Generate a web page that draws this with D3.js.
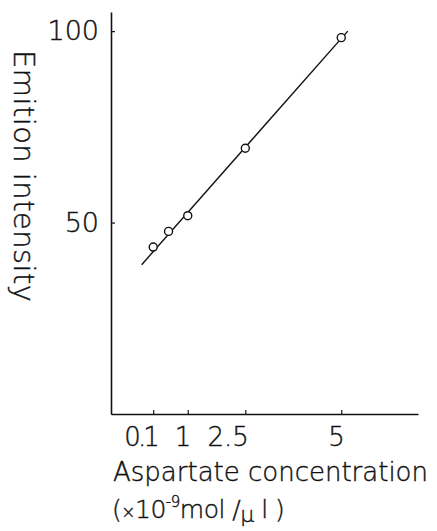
<!DOCTYPE html>
<html>
<head>
<meta charset="utf-8">
<script src="https://cdn.jsdelivr.net/npm/d3@7"></script>
<style>
  body { margin: 0; background: #fff; }
  svg { display: block; font-family: "DejaVu Sans", sans-serif; font-weight: 200; }
  svg text { stroke: #111; stroke-width: 0.4; }
</style>
</head>
<body>
<svg width="437" height="531"></svg>
<script>
// concentration (x10^-9 mol/ul) and emission intensity
const conc = [0.1, 0.5, 1, 2.5, 5];
const intensity = [43.6, 47.7, 51.8, 69.4, 98.3];
// fitted straight line, its two ends
const fitX = [-0.2, 5.17];
const fitY = [39, 100];
const xTicks = [0.1, 1, 2.5, 5];
const yTicks = [50, 100];

const svg = d3.select("svg");
const ink = "#111";

const x = d3.scaleLinear().domain([-1, 7]).range([111, 418]);
const y = d3.scaleLinear().domain([0, 105]).range([414, 12]);

const yAxis = svg
  .append("g")
  .attr("transform", `translate(${x(-1)},0)`)
  .call(
    d3.axisLeft(y).tickValues(yTicks).tickSizeInner(-4).tickSizeOuter(0).tickPadding(12)
  );
yAxis.select(".domain").attr("stroke", ink).attr("stroke-width", 1.6);
yAxis.selectAll(".tick line").attr("stroke", ink).attr("stroke-width", 1.2);
yAxis
  .selectAll(".tick text")
  .attr("fill", ink)
  .attr("font-size", 27)
  .attr("font-family", "DejaVu Sans");

const xAxis = svg
  .append("g")
  .attr("transform", `translate(0,${y(0)})`)
  .call(
    d3
      .axisBottom(x)
      .tickValues(xTicks)
      .tickFormat((d) => String(d))
      .tickSizeInner(-4)
      .tickSizeOuter(0)
      .tickPadding(14)
  );
xAxis.select(".domain").attr("stroke", ink).attr("stroke-width", 1.6);
xAxis.selectAll(".tick line").attr("stroke", ink).attr("stroke-width", 1.2);
xAxis
  .selectAll(".tick text")
  .attr("fill", ink)
  .attr("font-size", 26)
  .attr("font-family", "DejaVu Sans")
  .attr("text-anchor", "end")
  .attr("dx", 3)
  .attr("letter-spacing", (d) => (d === 0.1 ? -3 : 0));

// fitted line
svg
  .append("line")
  .attr("x1", x(fitX[0]))
  .attr("y1", y(fitY[0]))
  .attr("x2", x(fitX[1]))
  .attr("y2", y(fitY[1]))
  .attr("stroke", ink)
  .attr("stroke-width", 1.4);

svg
  .selectAll("circle")
  .data(conc)
  .join("circle")
  .attr("cx", (d) => x(d))
  .attr("cy", (d, i) => y(intensity[i]))
  .attr("r", 4)
  .attr("fill", "#fff")
  .attr("stroke", ink)
  .attr("stroke-width", 1.4);

// axis titles
svg
  .append("text")
  .attr("transform", "translate(14,50) rotate(90)")
  .attr("font-size", 29)
  .attr("fill", ink)
  .attr("textLength", 252)
  .text("Emition intensity");

svg
  .append("text")
  .attr("x", 113)
  .attr("y", 481)
  .attr("font-size", 26)
  .attr("fill", ink)
  .attr("textLength", 315)
  .text("Aspartate concentration");

const unit = svg
  .append("text")
  .attr("x", 112)
  .attr("y", 518)
  .attr("font-size", 25)
  .attr("letter-spacing", -0.5)
  .attr("fill", ink);
unit.append("tspan").text("(");
unit.append("tspan").attr("font-size", 17).text("×");
unit.append("tspan").text("10");
unit.append("tspan").attr("font-size", 15).attr("dy", -11).text("-9");
unit.append("tspan").attr("dy", 11).text("mol /");
unit.append("tspan").attr("font-size", 22).attr("dy", 4).text("μ");
unit.append("tspan").attr("dy", -4).text(" l )");
</script>
</body>
</html>
